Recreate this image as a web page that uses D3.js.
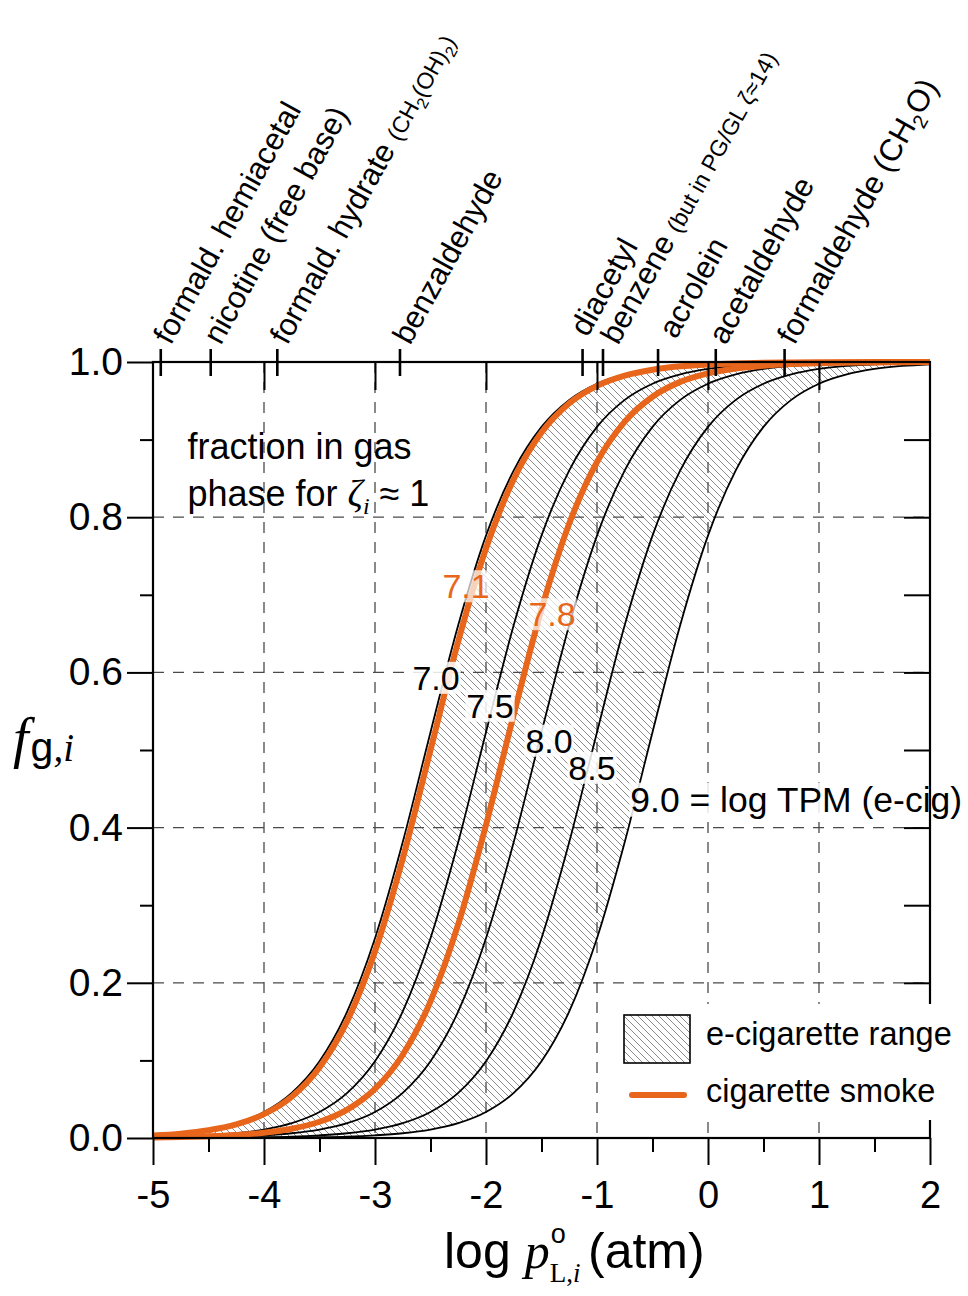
<!DOCTYPE html>
<html><head><meta charset="utf-8">
<script src="https://cdn.jsdelivr.net/npm/d3@7"></script>
<style>
body{margin:0;background:#fff}
svg{display:block}
</style>
</head><body>
<svg id="c" width="968" height="1296"></svg>
<script>
// ---------------- data ----------------
const logP = [-5,-4.75,-4.5,-4.25,-4,-3.75,-3.5,-3.25,-3,-2.75,-2.5,-2.25,-2,-1.75,-1.5,-1.25,-1,-0.75,-0.5,-0.25,0,0.25,0.5,0.75,1,1.25,1.5,1.75,2];
// fraction in gas phase (log TPM label)
const tpm70 = [0.0035,0.0061,0.0108,0.0191,0.0335,0.0581,0.0988,0.1632,0.2575,0.3814,0.5230,0.6610,0.7762,0.8604,0.9164,0.9512,0.9720,0.9840,0.9910,0.9949,0.9971,0.9984,0.9991,0.9995,0.9997,0.9998,0.9999,1.0,1.0];
const tpm71 = [0.0032,0.0056,0.0099,0.0175,0.0307,0.0532,0.0909,0.1509,0.2403,0.3599,0.5000,0.6401,0.7597,0.8491,0.9091,0.9468,0.9693,0.9825,0.9901,0.9944,0.9968,0.9982,0.9990,0.9994,0.9997,0.9998,0.9999,1.0,1.0];
const tpm75 = [0.0011,0.0019,0.0035,0.0061,0.0108,0.0191,0.0335,0.0581,0.0988,0.1632,0.2575,0.3814,0.5230,0.6610,0.7762,0.8604,0.9164,0.9512,0.9720,0.9840,0.9910,0.9949,0.9971,0.9984,0.9991,0.9995,0.9997,0.9998,0.9999];
const tpm78 = [0.0007,0.0012,0.0021,0.0038,0.0067,0.0119,0.0209,0.0366,0.0633,0.1073,0.1761,0.2755,0.4034,0.5459,0.6813,0.7918,0.8712,0.9232,0.9553,0.9744,0.9854,0.9917,0.9953,0.9974,0.9985,0.9992,0.9995,0.9997,0.9999];
const tpm80 = [0.0003,0.0006,0.0011,0.0019,0.0035,0.0061,0.0108,0.0191,0.0335,0.0581,0.0988,0.1632,0.2575,0.3814,0.5230,0.6610,0.7762,0.8604,0.9164,0.9512,0.9720,0.9840,0.9910,0.9949,0.9971,0.9984,0.9991,0.9995,0.9997];
const tpm85 = [0.0001,0.0002,0.0003,0.0006,0.0011,0.0019,0.0035,0.0061,0.0108,0.0191,0.0335,0.0581,0.0988,0.1632,0.2575,0.3814,0.5230,0.6610,0.7762,0.8604,0.9164,0.9512,0.9720,0.9840,0.9910,0.9949,0.9971,0.9984,0.9991];
const tpm90 = [0.0000,0.0001,0.0001,0.0002,0.0003,0.0006,0.0011,0.0019,0.0035,0.0061,0.0108,0.0191,0.0335,0.0581,0.0988,0.1632,0.2575,0.3814,0.5230,0.6610,0.7762,0.8604,0.9164,0.9512,0.9720,0.9840,0.9910,0.9949,0.9971];

const blackCurves = [tpm70, tpm75, tpm80, tpm85, tpm90];
const orangeCurves = [tpm71, tpm78];

// curve labels: text, log p position, f position, colour key
const curveLabelText = ["7.1","7.8","7.0","7.5","8.0","8.5"];
const curveLabelX    = [-2.18,-1.405,-2.45,-1.964,-1.432,-1.045];
const curveLabelY    = [0.711,0.675,0.593,0.557,0.512,0.477];
const curveLabelKind = ["cig","cig","ecig","ecig","ecig","ecig"];

// compounds on top axis
const compoundLogP = [-4.93,-4.48,-3.88,-2.775,-1.13,-0.946,-0.45,0.07,0.69];
const compoundMain = ["formald. hemiacetal","nicotine (free base)","formald. hydrate ","benzaldehyde","diacetyl","benzene ","acrolein","acetaldehyde","formaldehyde (CH"];
const compoundExtra = ["","","(CH|2|(OH)|2|)","","","(but in PG/GL ζ≈14)","","","2|O)"];

const xTickValues = [-5,-4,-3,-2,-1,0,1,2];
const xMinorValues = [-4.5,-3.5,-2.5,-1.5,-0.5,0.5,1.5];
const yTickValues = [0,0.2,0.4,0.6,0.8,1.0];
const yMinorValues = [0.1,0.3,0.5,0.7,0.9];
const xGridValues = [-4,-3,-2,-1,0,1];
const yGridValues = [0.2,0.4,0.6,0.8];
const legendLabels = ["e-cigarette range","cigarette smoke"];

// ---------------- drawing ----------------
const SANS = '"Liberation Sans", Arial, Helvetica, sans-serif';
const SERIF = '"Liberation Serif", "Times New Roman", serif';
const ORANGE = "#E8661C";
const svg = d3.select("#c");
const X = d3.scaleLinear().domain([-5,2]).range([153,930]);
const Y = d3.scaleLinear().domain([0,1]).range([1138,362]);

const defs = svg.append("defs");
defs.append("pattern").attr("id","hatch").attr("patternUnits","userSpaceOnUse")
  .attr("width",7).attr("height",7)
  .append("path").attr("d","M0,0L7,7M-1,6L1,8M6,-1L8,1")
  .attr("stroke","#8c8c8c").attr("stroke-width",1);

// hatched e-cig range
const area = d3.area().x((d,i)=>X(logP[i])).y0((d,i)=>Y(tpm90[i])).y1((d,i)=>Y(tpm70[i])).curve(d3.curveMonotoneX);
svg.append("path").datum(logP).attr("d",area).attr("fill","url(#hatch)");

// grid
const grid = svg.append("g").attr("stroke","#4a4a4a").attr("stroke-width",1.3).attr("stroke-dasharray","11,9");
grid.selectAll(".gx").data(xGridValues).join("line")
  .attr("x1",d=>X(d)).attr("x2",d=>X(d)).attr("y1",Y(1)).attr("y2",Y(0));
grid.selectAll(".gy").data(yGridValues).join("line")
  .attr("x1",X(-5)).attr("x2",X(2)).attr("y1",d=>Y(d)).attr("y2",d=>Y(d));

// curves
const line = yArr => d3.line().x((d,i)=>X(logP[i])).y((d,i)=>Y(yArr[i])).curve(d3.curveMonotoneX)(logP);
svg.append("g").selectAll("path").data(blackCurves).join("path")
  .attr("d",d=>line(d)).attr("fill","none").attr("stroke","#000").attr("stroke-width",1.8);
svg.append("g").selectAll("path").data(orangeCurves).join("path")
  .attr("d",d=>line(d)).attr("fill","none").attr("stroke",ORANGE).attr("stroke-width",6);

// curve labels with white boxes
function boxed(parent, txt, px, py, size, color, bgOpacity, anchor){
  const g = parent.append("g");
  const r = g.append("rect");
  const t = g.append("text").attr("x",px).attr("y",py).attr("font-family",SANS)
    .attr("font-size",size).attr("fill",color).attr("text-anchor",anchor||"middle")
    .attr("dominant-baseline","central").text(txt);
  const bb = t.node().getBBox();
  r.attr("x",bb.x-1).attr("y",bb.y+3).attr("width",bb.width+2).attr("height",bb.height-6)
   .attr("fill","#fff").attr("opacity",bgOpacity);
  return g;
}
curveLabelText.forEach((t,i)=>{
  const cig = curveLabelKind[i]==="cig";
  boxed(svg, t, X(curveLabelX[i]), Y(curveLabelY[i]), 34, cig?ORANGE:"#000", cig?0.7:0.85);
});
boxed(svg, "9.0 = log TPM (e-cig)", X(-0.70), Y(0.436), 35.5, "#000", 0.85, "start");

// fraction text
const ft = svg.append("text").attr("font-family",SANS).attr("font-size",36).attr("fill","#000");
ft.append("tspan").attr("x",X(-4.69)).attr("y",Y(0.875)).text("fraction in gas");
ft.append("tspan").attr("x",X(-4.69)).attr("y",Y(0.815)).text("phase for ");
ft.append("tspan").attr("font-family",SERIF).attr("font-style","italic").attr("font-size",38).text("ζ");
ft.append("tspan").attr("font-family",SERIF).attr("font-style","italic").attr("font-size",24).attr("dy",8).text("i");
ft.append("tspan").attr("dy",-8).text(" ≈ 1");

// frame
svg.append("rect").attr("x",X(-5)).attr("y",Y(1)).attr("width",X(2)-X(-5)).attr("height",Y(0)-Y(1))
  .attr("fill","none").attr("stroke","#000").attr("stroke-width",2.2);

// axes
function styleAxis(g){
  g.select(".domain").remove();
  g.selectAll("line").attr("stroke","#000").attr("stroke-width",2);
  g.selectAll("text").attr("font-family",SANS).attr("fill","#000");
}
const gxMajor = svg.append("g").attr("transform",`translate(0,${Y(0)})`)
  .call(d3.axisBottom(X).tickValues(xTickValues).tickSize(27).tickPadding(16).tickFormat(d=>String(d)));
styleAxis(gxMajor); gxMajor.selectAll("text").attr("font-size",38);
const gxMinor = svg.append("g").attr("transform",`translate(0,${Y(0)})`)
  .call(d3.axisBottom(X).tickValues(xMinorValues).tickSize(14).tickFormat(""));
styleAxis(gxMinor);
const gxTop = svg.append("g").attr("transform",`translate(0,${Y(1)})`)
  .call(d3.axisBottom(X).tickValues(xGridValues).tickSize(28).tickFormat(""));
styleAxis(gxTop);

const gyMajor = svg.append("g").attr("transform",`translate(${X(-5)},0)`)
  .call(d3.axisLeft(Y).tickValues(yTickValues).tickSize(26).tickPadding(4).tickFormat(d3.format(".1f")));
styleAxis(gyMajor); gyMajor.selectAll("text").attr("font-size",39);
const gyMinor = svg.append("g").attr("transform",`translate(${X(-5)},0)`)
  .call(d3.axisLeft(Y).tickValues(yMinorValues).tickSize(13).tickFormat(""));
styleAxis(gyMinor);
const gyRight = svg.append("g").attr("transform",`translate(${X(2)},0)`)
  .call(d3.axisLeft(Y).tickValues(yMinorValues.concat([0.2,0.4,0.6,0.8])).tickSize(26).tickFormat(""));
styleAxis(gyRight);

// compound ticks + labels on top (small layout nudges where labels crowd)
const labelNudge = {4:[-5,-8], 5:[5,0], 6:[8,-6]};
const topG = svg.append("g");
topG.selectAll("line").data(compoundLogP).join("line")
  .attr("x1",d=>X(d)).attr("x2",d=>X(d)).attr("y1",Y(1)-13).attr("y2",Y(1)+14)
  .attr("stroke","#000").attr("stroke-width",2.6);
compoundLogP.forEach((v,i)=>{
  const n = labelNudge[i] || [0,0];
  const t = topG.append("text").attr("font-family",SANS).attr("font-size",31).attr("fill","#000")
    .attr("transform",`translate(${X(v)+10+n[0]},${Y(1)-16+n[1]}) rotate(-61)`);
  t.append("tspan").text(compoundMain[i]);
  const ex = compoundExtra[i];
  if(ex){
    const parts = ex.split("|");
    const small = (i!==8);
    const base = small ? 23 : 31;
    let shift = 0;
    parts.forEach((p)=>{
      if(!p) return;
      const isSub = (p==="2");
      const target = isSub ? (small?6:8) : 0;
      t.append("tspan").attr("font-size", isSub ? (small?16:20) : base)
        .attr("dy", target-shift).text(p);
      shift = target;
    });
  }
});

// legend (white background covers frame)
const lg = svg.append("g");
lg.append("rect").attr("x",602).attr("y",1004).attr("width",366).attr("height",116).attr("fill","#fff");
lg.append("rect").attr("x",624).attr("y",1015).attr("width",66).attr("height",48)
  .attr("fill","url(#hatch)").attr("stroke","#000").attr("stroke-width",1.6);
lg.append("line").attr("x1",632).attr("x2",684).attr("y1",1095).attr("y2",1095)
  .attr("stroke",ORANGE).attr("stroke-width",6).attr("stroke-linecap","round");
lg.selectAll("text").data(legendLabels).join("text")
  .attr("x",706).attr("y",(d,i)=>1045+i*57).attr("font-family",SANS).attr("font-size",32.5).attr("fill","#000")
  .text(d=>d);

// y-axis title f_{g,i}
const yl = svg.append("text").attr("x",13).attr("y",757).attr("fill","#000");
yl.append("tspan").attr("font-family",SERIF).attr("font-style","italic").attr("font-size",56).text("f");
yl.append("tspan").attr("font-family",SANS).attr("font-size",41).attr("dx",2).attr("dy",4).text("g");
yl.append("tspan").attr("font-family",SERIF).attr("font-style","italic").attr("font-size",39).text(",i");

// x-axis title
const xl = svg.append("text").attr("x",444).attr("y",1268).attr("fill","#000").attr("font-size",50);
xl.append("tspan").attr("font-family",SANS).text("log ");
xl.append("tspan").attr("font-family",SERIF).attr("font-style","italic").text("p");
xl.append("tspan").attr("font-family",SANS).attr("font-size",27).attr("dx",1).attr("dy",-25).text("o");
xl.append("tspan").attr("font-family",SERIF).attr("font-size",27).attr("dx",-16).attr("dy",39).text("L,");
xl.append("tspan").attr("font-family",SERIF).attr("font-style","italic").attr("font-size",27).text("i");
xl.append("tspan").attr("font-family",SANS).attr("x",588).attr("dy",-14).text("(atm)");
</script>
</body></html>
